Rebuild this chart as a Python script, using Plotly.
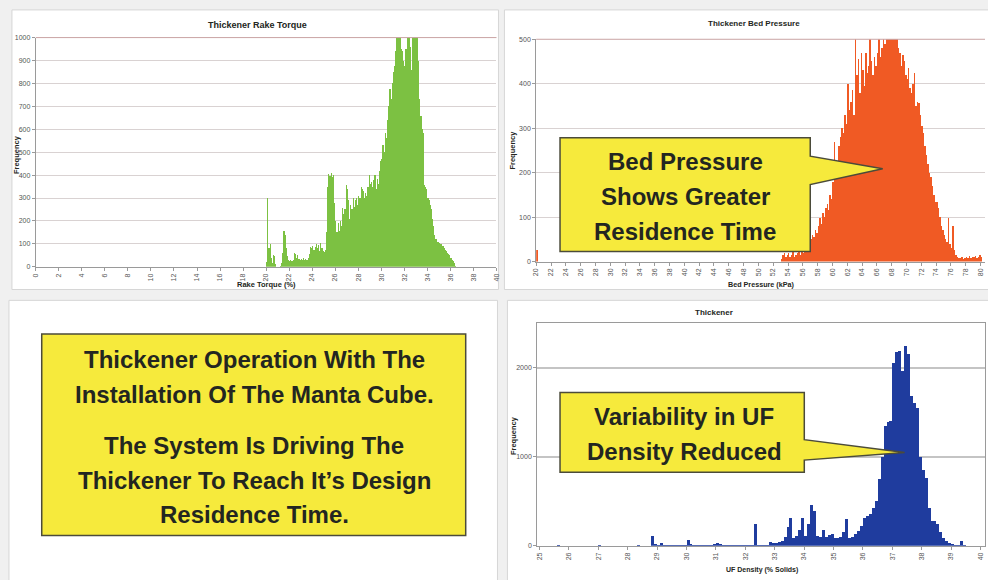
import plotly.graph_objects as go

W, H = 988, 580

# ---------------- data ----------------
torque_start = 20.0
torque_width = 0.1
torque_counts = [
    20, 300, 80, 100, 40, 15, 50, 45, 10, 0,
    0, 0, 5, 15, 60, 155, 140, 80, 45, 30,
    25, 30, 25, 30, 60, 55, 40, 50, 35, 30,
    35, 30, 40, 30, 35, 30, 40, 55, 85, 80,
    90, 75, 85, 100, 80, 95, 70, 105, 80, 70,
    65, 75, 150, 350, 405, 395, 410, 390, 400, 280,
    200, 150, 190, 155, 200, 180, 255, 230, 250, 355,
    340, 290, 210, 270, 250, 300, 260, 290, 300, 270,
    310, 300, 350, 340, 330, 300, 320, 310, 350, 400,
    360, 370, 350, 380, 400, 340, 385, 360, 420, 460,
    470, 530, 500, 585, 560, 640, 700, 775, 730, 800,
    850, 875, 940, 1050, 1050, 1020, 1050, 950, 940, 900,
    875, 950, 1050, 1050, 1030, 960, 860, 1050, 1050, 1050,
    1050, 1050, 900, 730, 660, 600, 585, 355, 350, 340,
    300, 290, 270, 250, 210, 180, 140, 120, 110, 110,
    105, 100, 100, 90, 80, 75, 70, 60, 55, 50,
    40, 30, 25, 15, 5, 0,
]
torque_ticks = list(range(0, 41, 2))
torque_yticks = list(range(0, 1001, 100))

bed_lone_x = [20.1]
bed_lone_counts = [25]
bed_start = 53.0
bed_width = 0.2
bed_counts = [
    5, 15, 20, 10, 15,
    20, 10, 15, 25, 10,
    15, 20, 30, 15, 25,
    20, 35, 40, 30, 45,
    50, 60, 55, 70, 65,
    80, 98, 85, 110, 100,
    120, 130, 115, 150, 140,
    180, 270, 190, 210, 260,
    280, 300, 290, 330, 310,
    400, 340, 360, 385, 330,
    500, 420, 455, 380, 470,
    430, 395, 470, 425, 440,
    500, 450, 420, 460, 440,
    470, 500, 460, 480, 510,
    490, 520, 500, 530, 540,
    520, 530, 500, 510, 480,
    470, 440, 465, 450, 420,
    410, 435, 390, 380, 400,
    425, 350, 360, 357, 330,
    305, 290, 260, 240, 220,
    200, 190, 170, 150, 135,
    135, 120, 100, 80, 70,
    60, 50, 45, 98, 40,
    31, 80, 25, 15, 10,
    9, 8, 10, 6, 8,
    10, 8, 12, 9, 10,
    10, 12, 9, 11, 15,
    10,
]
bed_ticks = list(range(20, 81, 2))
bed_yticks = list(range(0, 501, 100))

uf_start = 25.0
uf_width = 0.1
uf_counts = [
    0, 0, 0, 0, 0, 0, 4, 0, 0, 0,
    0, 0, 0, 0, 0, 0, 0, 0, 0, 0,
    4, 0, 0, 0, 0, 0, 0, 0, 0, 0,
    0, 0, 0, 4, 0, 0, 0, 0, 110, 15,
    10, 30, 10, 5, 5, 5, 5, 5, 5, 5,
    63, 15, 8, 8, 5, 5, 8, 8, 10, 15,
    26, 15, 12, 10, 10, 12, 10, 10, 8, 10,
    10, 12, 10, 240, 5, 5, 8, 10, 37, 30,
    35, 40, 55, 100, 210, 315, 90, 110, 175, 315,
    110, 240, 460, 390, 110, 100, 175, 100, 120, 130,
    90, 90, 100, 150, 295, 90, 100, 130, 165, 220,
    315, 333, 360, 425, 500, 750, 1000, 1350, 1390, 1400,
    2060, 2180, 2190, 1960, 2250, 2160, 1680, 1600, 1550, 1000,
    850, 760, 425, 280, 280, 240, 150, 90, 48, 25,
    18, 10, 5, 55, 5,
]
uf_ticks = list(range(25, 41))
uf_yticks = [0, 1000, 2000]

titles = ["Thickener Rake Torque", "Thickener Bed Pressure", "Thickener"]
xtitles = ["Rake Torque (%)", "Bed Pressure (kPa)", "UF Density (% Solids)"]
ytitle = "Frequency"
callout1 = ["Bed Pressure", "Shows Greater", "Residence Time"]
callout2 = ["Variability in UF", "Density Reduced"]
main_text = ["Thickener Operation With The", "Installation Of The Manta Cube.",
             "The System Is Driving The", "Thickener To Reach It\u2019s Design",
             "Residence Time."]


# ---------------- helpers ----------------
def X(px):
    return px / W


def Y(py):
    return 1 - py / H


def centers(start, width, n):
    return [start + width * (i + 0.5) for i in range(n)]


def path(pts):
    return "M " + " L ".join(f"{X(a):.5f},{Y(b):.5f}" for a, b in pts) + " Z"


GREEN = "#7cc142"
ORANGE = "#f05a24"
BLUE = "#1f3c9e"
YELLOW = "#f6ea3c"
TXT = "#232621"
BOLD = "Liberation Sans, Arial, sans-serif"

fig = go.Figure()

fig.add_trace(go.Bar(
    x=centers(torque_start, torque_width, len(torque_counts)), y=torque_counts,
    width=torque_width, marker=dict(color=GREEN, line=dict(width=0)),
    xaxis="x", yaxis="y"))
fig.add_trace(go.Bar(
    x=bed_lone_x, y=bed_lone_counts, width=0.2,
    marker=dict(color=ORANGE, line=dict(width=0)), xaxis="x2", yaxis="y2"))
fig.add_trace(go.Bar(
    x=centers(bed_start, bed_width, len(bed_counts)), y=bed_counts,
    width=bed_width, marker=dict(color=ORANGE, line=dict(width=0)),
    xaxis="x2", yaxis="y2"))
fig.add_trace(go.Bar(
    x=centers(uf_start, uf_width, len(uf_counts)), y=uf_counts,
    width=uf_width, marker=dict(color=BLUE, line=dict(width=0)),
    xaxis="x3", yaxis="y3"))

tickfont = dict(family="Liberation Sans, Arial", size=7, color="#555")
common_x = dict(tickangle=-90, tickfont=tickfont, showline=True, linecolor="#9a9a9a",
                ticks="outside", ticklen=3, tickcolor="#9a9a9a", showgrid=False,
                zeroline=False, fixedrange=True)
common_y = dict(tickfont=tickfont, showline=True, linecolor="#9a9a9a", ticks="outside",
                ticklen=3, tickcolor="#9a9a9a", gridcolor="#d9d2d2", gridwidth=1,
                zeroline=False, fixedrange=True)

fig.update_layout(
    width=W, height=H, autosize=False,
    margin=dict(l=0, r=0, t=0, b=0),
    paper_bgcolor="#f0f0f0", plot_bgcolor="white",
    showlegend=False, bargap=0, hovermode=False,
    xaxis=dict(domain=[X(32), X(496)], range=[0, 40], tickvals=torque_ticks,
               anchor="y", **common_x),
    yaxis=dict(domain=[Y(266), Y(34)], range=[0, 1000], tickvals=torque_yticks,
               anchor="x", **common_y),
    xaxis2=dict(domain=[X(536), 1.0], range=[20, 80.6], tickvals=bed_ticks,
                anchor="y2", **common_x),
    yaxis2=dict(domain=[Y(260.7), Y(35.7)], range=[0, 500], tickvals=bed_yticks,
                anchor="x2", **common_y),
    xaxis3=dict(domain=[X(537), 1.0], range=[24.92, 40.15], tickvals=uf_ticks,
                anchor="y3", mirror=True, **common_x),
    yaxis3=dict(domain=[Y(548.3), Y(323.3)], range=[0, 2500], tickvals=uf_yticks,
                anchor="x3", mirror=True,
                **{**common_y, "gridcolor": "#c4c4c4", "gridwidth": 1.5}),
)

shapes = []
# panel backgrounds
for (x0, y0, x1, y1) in [(8, 6, 498, 289), (504, 6, 992, 289),
                         (5, 300, 497, 584), (507, 300, 992, 584)]:
    shapes.append(dict(type="rect", xref="paper", yref="paper",
                       x0=X(x0), x1=X(x1), y0=Y(y1), y1=Y(y0),
                       fillcolor="white", line=dict(color="#d6d6d6", width=1),
                       layer="below"))
# reddish top lines of the top two plot areas
for (x0, x1, yy) in [(32, 496, 34), (536, 988, 35.7)]:
    shapes.append(dict(type="line", xref="paper", yref="paper",
                       x0=X(x0), x1=X(x1), y0=Y(yy), y1=Y(yy),
                       line=dict(color="#c9a3a3", width=1)))
# callouts
shapes.append(dict(type="path", xref="paper", yref="paper",
                   path=path([(560, 135.5), (812, 135.5), (812, 154), (885, 166.7),
                              (812, 182.7), (812, 250.5), (560, 250.5)]),
                   fillcolor=YELLOW, line=dict(color="#4b4b3a", width=1.5), layer="above"))
shapes.append(dict(type="path", xref="paper", yref="paper",
                   path=path([(560, 393.3), (806, 393.3), (806, 441), (907, 454),
                              (806, 461.7), (806, 474), (560, 474)]),
                   fillcolor=YELLOW, line=dict(color="#4b4b3a", width=1.5), layer="above"))
shapes.append(dict(type="rect", xref="paper", yref="paper",
                   x0=X(38), x1=X(465), y0=Y(538), y1=Y(334),
                   fillcolor=YELLOW, line=dict(color="#4b4b3a", width=1.5), layer="above"))
fig.update_layout(shapes=shapes)

ann = []


def label(text, cx, cy, size, bold=True, angle=0, color=TXT):
    t = f"<b>{text}</b>" if bold else text
    ann.append(dict(text=t, x=X(cx), y=Y(cy), xref="paper", yref="paper",
                    xanchor="center", yanchor="middle", showarrow=False,
                    textangle=angle, font=dict(family=BOLD, size=size, color=color)))


label(titles[0], 255, 21, 9)
label(titles[1], 755, 20, 8)
label(titles[2], 715, 312, 8)
label(xtitles[0], 264, 284, 7.5)
label(xtitles[1], 763, 284, 7.2)
label(xtitles[2], 763, 573, 7)
label(ytitle, 12, 152, 7.5, angle=-90)
label(ytitle, 512, 148, 7.5, angle=-90)
label(ytitle, 513, 437, 7.5, angle=-90)

for line, cy in zip(callout1, [159, 195, 230]):
    label(line, 686, cy, 24)
for line, cy in zip(callout2, [418, 453]):
    label(line, 685, cy, 24)
for line, cy in zip(main_text, [360, 395, 447, 482, 517]):
    label(line, 252, cy, 24)

fig.update_layout(annotations=ann)

fig.write_html(
    "out.html",
    config={"displayModeBar": False, "staticPlot": True},
    post_script="document.body.style.margin='0';document.body.style.overflow='hidden';",
)
